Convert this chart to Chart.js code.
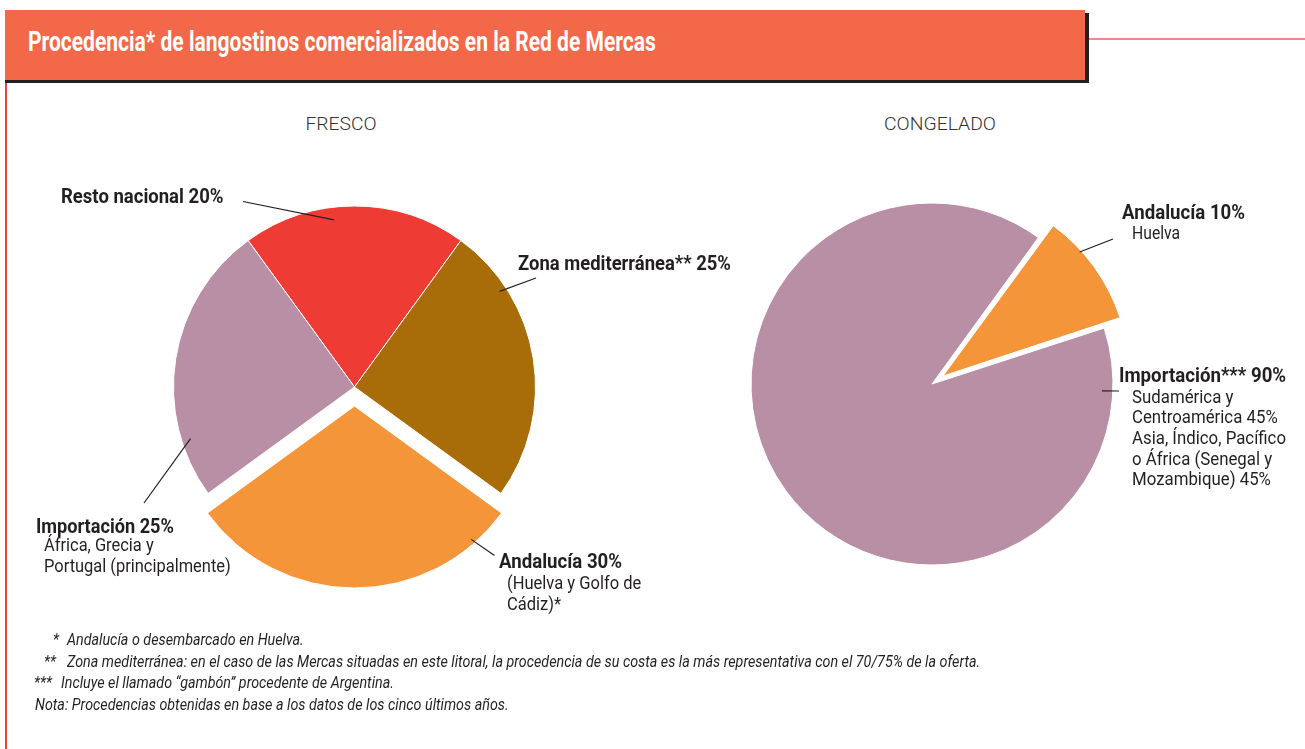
<!DOCTYPE html>
<html lang="es">
<head>
<meta charset="utf-8">
<title>Procedencia de langostinos</title>
<script src="https://cdn.jsdelivr.net/npm/chart.js@4.4.1/dist/chart.umd.min.js"></script>
<style>
  html, body { margin: 0; padding: 0; background: #fff; }
  body { width: 1305px; height: 749px; position: relative; overflow: hidden;
         font-family: Roboto, "Liberation Sans", sans-serif; color: #231F20; }
  .abs { position: absolute; white-space: nowrap; transform-origin: 0 0; }
  #header { left: 5px; top: 10px; width: 1080px; height: 70px; background: #F26849; }
  #shadowR { left: 1085px; top: 13px; width: 4px; height: 70px; background: #231F20; }
  #shadowB { left: 5px; top: 80px; width: 1084px; height: 3px; background: #231F20; }
  #rule { left: 1089px; top: 38px; width: 216px; height: 1.5px; background: #F28A80; }
  #border { left: 5px; top: 83px; width: 1.5px; height: 666px; background: #E8453C; }
  #title { left: 28px; top: 29.3px; font-size: 27px; line-height: 27px; font-weight: bold; color: #fff; }
  .head { font-size: 19px; line-height: 19px; font-weight: 300; color: #333; transform-origin: 50% 0; }
  .lb { font-size: 20px; line-height: 20px; font-weight: bold; }
  .sub { font-size: 19px; line-height: 20.5px; }
  .fn { font-size: 17px; line-height: 17px; font-style: italic; }
  canvas { position: absolute; }
</style>
</head>
<body>
<div class="abs" id="header"></div>
<div class="abs" id="shadowR"></div>
<div class="abs" id="shadowB"></div>
<div class="abs" id="rule"></div>
<div class="abs" id="border"></div>
<div class="abs" id="title" data-w="628">Procedencia* de langostinos comercializados en la Red de Mercas</div>

<div class="abs head" data-c="1" data-w="71" style="left:340.5px; top:114px;">FRESCO</div>
<div class="abs head" data-c="1" data-w="112" style="left:940px; top:114px;">CONGELADO</div>

<canvas id="fresco" width="650" height="560" style="left:0px; top:90px;"></canvas>
<canvas id="congelado" width="655" height="560" style="left:650px; top:90px;"></canvas>

<div class="abs lb" data-w="162" style="left:61px; top:186px;">Resto nacional 20%</div>
<div class="abs lb" data-w="213" style="left:518px; top:253px;">Zona mediterránea** 25%</div>
<div class="abs lb" data-w="138" style="left:36px; top:516px;">Importación 25%</div>
<div class="abs sub" data-w="187" style="left:43.5px; top:535.3px;">África, Grecia y<br>Portugal (principalmente)</div>
<div class="abs lb" data-w="123" style="left:499px; top:551px;">Andalucía 30%</div>
<div class="abs sub" data-w="134" style="left:507px; top:573.3px;">(Huelva y Golfo de<br>Cádiz)*</div>

<div class="abs lb" data-w="123" style="left:1121.5px; top:201.5px;">Andalucía 10%</div>
<div class="abs sub" data-w="48" style="left:1131.5px; top:223.3px;">Huelva</div>
<div class="abs lb" data-w="167" style="left:1119px; top:365px;">Importación*** 90%</div>
<div class="abs sub" data-w="154" style="left:1131.5px; top:386.5px; line-height:20.7px;">Sudamérica y<br>Centroamérica 45%<br>Asia, Índico, Pacífico<br>o África (Senegal y<br>Mozambique) 45%</div>

<div class="abs fn" style="left:53px; top:630.7px;">*</div>
<div class="abs fn" style="left:66.5px; top:630.7px;">Andalucía o desembarcado en Huelva.</div>
<div class="abs fn" style="left:44px; top:652.7px;">**</div>
<div class="abs fn" id="fnRef" style="left:66.5px; top:652.7px;">Zona mediterránea: en el caso de las Mercas situadas en este litoral, la procedencia de su costa es la más representativa con el 70/75% de la oferta.</div>
<div class="abs fn" style="left:34px; top:674.2px;">***</div>
<div class="abs fn" style="left:60.5px; top:674.2px;">Incluye el llamado “gambón” procedente de Argentina.</div>
<div class="abs fn" style="left:35px; top:695.7px;">Nota: Procedencias obtenidas en base a los datos de los cinco últimos años.</div>

<script>
// Fresco
const frescoLabels = ['Resto nacional', 'Zona mediterránea', 'Andalucía', 'Importación'];
const frescoValues = [20, 25, 30, 25];
const frescoColors = ['#EE3B33', '#A86C08', '#F5953A', '#B98FA6'];

// Congelado
const congeladoLabels = ['Andalucía', 'Importación'];
const congeladoValues = [10, 90];
const congeladoColors = ['#F5953A', '#B98FA6'];

const RADIUS = 181;
const BORDER = 1;

// squeeze text to the condensed widths of the original type
document.querySelectorAll('[data-w]').forEach(el => {
    const f = +el.dataset.w / el.offsetWidth;
    el.style.transform = el.dataset.c ? `translateX(-50%) scaleX(${f})` : `scaleX(${f})`;
});
const fnScale = 913 / document.getElementById('fnRef').offsetWidth;
document.querySelectorAll('.fn').forEach(el => { el.style.transform = `scaleX(${fnScale})`; });

// how far Chart.js moves an arc for a given offset option (offset/4 plus the narrow-slice fix)
function shiftFactor(value, total) {
    const circ = value / total * Math.PI * 2;
    const fix = 1 - Math.sin(Math.min(Math.PI, circ));
    return (1 + fix) / 4;
}

// leader lines: slice index, angle (deg clockwise from top), fraction of radius, outer end (page px)
const frescoCallouts = [
    { i: 0, deg: -7,    frac: 0.93, to: [243, 201.5] },
    { i: 1, deg: 56.6,  frac: 0.96, to: [536, 278] },
    { i: 2, deg: 138.6, frac: 0.975, to: [494.5, 555.5] },
    { i: 3, deg: 252.5, frac: 0.95, to: [144, 503] }
];
const congeladoCallouts = [
    { i: 0, deg: 47.6, frac: 0.99, to: [1113, 239] },
    { i: 1, deg: 92.3, frac: 0.94, to: [1119, 391] }
];

const leaderLines = {
    id: 'leaderLines',
    afterDatasetsDraw(chart, args, opts) {
        const ctx = chart.ctx;
        const meta = chart.getDatasetMeta(0);
        ctx.save();
        ctx.strokeStyle = '#231F20';
        ctx.lineWidth = 1.2;
        opts.items.forEach(c => {
            const arc = meta.data[c.i];
            const mid = (arc.startAngle + arc.endAngle) / 2;
            const off = (arc.options.offset || 0) / 4;
            const fix = 1 - Math.sin(Math.min(Math.PI, arc.circumference));
            const shift = off * (1 + fix);
            const cx = arc.x + Math.cos(mid) * shift;
            const cy = arc.y + Math.sin(mid) * shift;
            const a = (c.deg - 90) * Math.PI / 180;
            const px = cx + Math.cos(a) * c.frac * arc.outerRadius;
            const py = cy + Math.sin(a) * c.frac * arc.outerRadius;
            ctx.beginPath();
            ctx.moveTo(px, py);
            ctx.lineTo(c.to[0] - opts.left, c.to[1] - opts.top);
            ctx.stroke();
        });
        ctx.restore();
    }
};

function makePie(id, labels, values, colors, explodeIdx, shiftPx, rotation, center, canvasPos, callouts) {
    const canvas = document.getElementById(id);
    const total = values.reduce((a, b) => a + b, 0);
    const offset = shiftPx / shiftFactor(values[explodeIdx], total);
    const half = (2 * RADIUS + BORDER + offset) / 2;
    const cx = center[0] - canvasPos[0];
    const cy = center[1] - canvasPos[1];
    const offsets = values.map((v, k) => k === explodeIdx ? offset : 0);
    return new Chart(canvas, {
        type: 'pie',
        data: {
            labels: labels,
            datasets: [{
                data: values,
                backgroundColor: colors,
                borderColor: '#ffffff',
                borderWidth: BORDER,
                offset: offsets,
                hoverOffset: 0
            }]
        },
        options: {
            responsive: false,
            animation: false,
            rotation: rotation,
            layout: {
                padding: {
                    left: cx - half,
                    top: cy - half,
                    right: canvas.width - (cx + half),
                    bottom: canvas.height - (cy + half)
                }
            },
            plugins: {
                legend: { display: false },
                tooltip: { enabled: false },
                leaderLines: { items: callouts, left: canvasPos[0], top: canvasPos[1] }
            },
            events: []
        },
        plugins: [leaderLines]
    });
}

makePie('fresco', frescoLabels, frescoValues, frescoColors, 2, 20, -36, [354.5, 387], [0, 90], frescoCallouts);
makePie('congelado', congeladoLabels, congeladoValues, congeladoColors, 0, 19, 36, [932, 384], [650, 90], congeladoCallouts);
</script>
</body>
</html>
